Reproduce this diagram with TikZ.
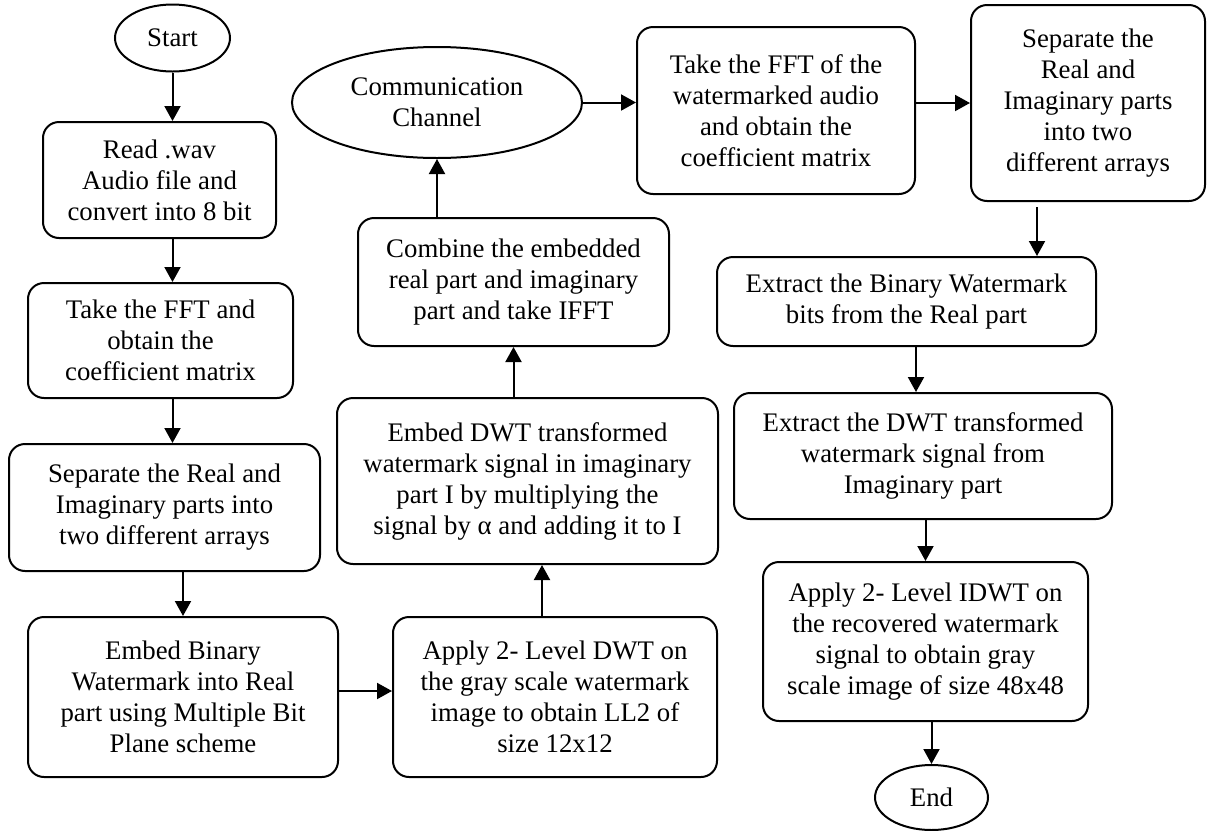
\documentclass[tikz,border=0pt]{standalone}
\usepackage{fontspec}
\setmainfont{Liberation Serif}
\usetikzlibrary{arrows.meta,shapes.geometric}

\begin{document}
\begin{tikzpicture}[x=0.5pt,y=-0.5pt,
    every node/.style={font=\fontsize{13.4}{15.5}\selectfont,align=center},
    proc/.style={draw,line width=1pt,rounded corners=8pt,inner sep=2pt},
    term/.style={draw,line width=1pt,ellipse,inner sep=0pt},
    flow/.style={line width=1pt,-{Triangle[length=7.5pt,width=8pt]}}]
    \useasboundingbox (0,0) rectangle (1207,831);
    % Embedding
    \node[term,minimum width=57.5pt,minimum height=33.5pt] (start) at (172.5,38) {Start};
    \node[proc,minimum width=116.5pt,minimum height=58pt] (read) at (159.5,180) {Read .wav\\Audio file and\\convert into 8 bit};
    \node[proc,minimum width=132.5pt,minimum height=57.5pt] (fft) at (160.5,340.5) {Take the FFT and\\obtain the\\coefficient matrix};
    \node[proc,minimum width=155.5pt,minimum height=63.5pt] (sep) at (164.5,507.5) {Separate the Real and\\Imaginary parts into\\two different arrays};
    \node[proc,minimum width=155pt,minimum height=80pt] (embin) at (183,697) {Embed Binary\\Watermark into Real\\part using Multiple Bit\\Plane scheme};
    \node[proc,minimum width=162pt,minimum height=80pt] (dwt) at (555,697) {Apply 2- Level DWT on\\the gray scale watermark\\image to obtain LL2 of\\size 12x12};
    \node[proc,minimum width=190.5pt,minimum height=83pt] (embim) at (527.5,481) {Embed DWT transformed\\watermark signal in imaginary\\part I by multiplying the\\signal by α and adding it to I};
    \node[proc,minimum width=155.5pt,minimum height=64pt] (comb) at (513.5,282) {Combine the embedded\\real part and imaginary\\part and take IFFT};
    \node[term,minimum width=145pt,minimum height=55.5pt] (chan) at (437,102.5) {Communication\\Channel};
    % Extraction
    \node[proc,minimum width=139pt,minimum height=83.5pt] (fftw) at (776,110.5) {Take the FFT of the\\watermarked audio\\and obtain the\\coefficient matrix};
    \node[proc,minimum width=117pt,minimum height=98pt] (sepw) at (1088,103) {Separate the\\Real and\\Imaginary parts\\into two\\different arrays};
    \node[proc,minimum width=189.5pt,minimum height=44.5pt] (exbin) at (906.5,301.5) {Extract the Binary Watermark\\bits from the Real part};
    \node[proc,minimum width=189pt,minimum height=63pt] (exdwt) at (923,456) {Extract the DWT transformed\\watermark signal from\\Imaginary part};
    \node[proc,minimum width=162.5pt,minimum height=79.5pt] (idwt) at (925.5,641.5) {Apply 2- Level IDWT on\\the recovered watermark\\signal to obtain gray\\scale image of size 48x48};
    \node[term,minimum width=56.5pt,minimum height=32.5pt] (end) at (931.5,797.5) {End};
    % Arrows
    \coordinate (up) at ([xshift=-6.5pt]dwt.north);
    \coordinate (side) at ([yshift=3pt]embin.east);
    \coordinate (down) at (1037,207);
    \coordinate (dn) at ([xshift=4.75pt]exbin.south);
    \draw[flow] (start) -- (start |- read.north);
    \draw[flow] (read.south -| start) -- (fft.north -| start);
    \draw[flow] (fft.south -| start) -- (sep.north -| start);
    \draw[flow] (sep.south -| embin) -- (embin);
    \draw[flow] (side) -- (side -| dwt.west);
    \draw[flow] (up) -- (up |- embim.south);
    \draw[flow] (embim.north -| comb) -- (comb);
    \draw[flow] (comb.north -| chan) -- (chan);
    \draw[flow] (chan) -- (chan -| fftw.west);
    \draw[flow] (fftw.east |- sepw) -- (sepw);
    \draw[flow] (down) -- (down |- exbin.north);
    \draw[flow] (dn) -- (dn |- exdwt.north);
    \draw[flow] (exdwt.south -| idwt) -- (idwt);
    \draw[flow] (idwt.south -| end) -- (end);
\end{tikzpicture}
\end{document}
